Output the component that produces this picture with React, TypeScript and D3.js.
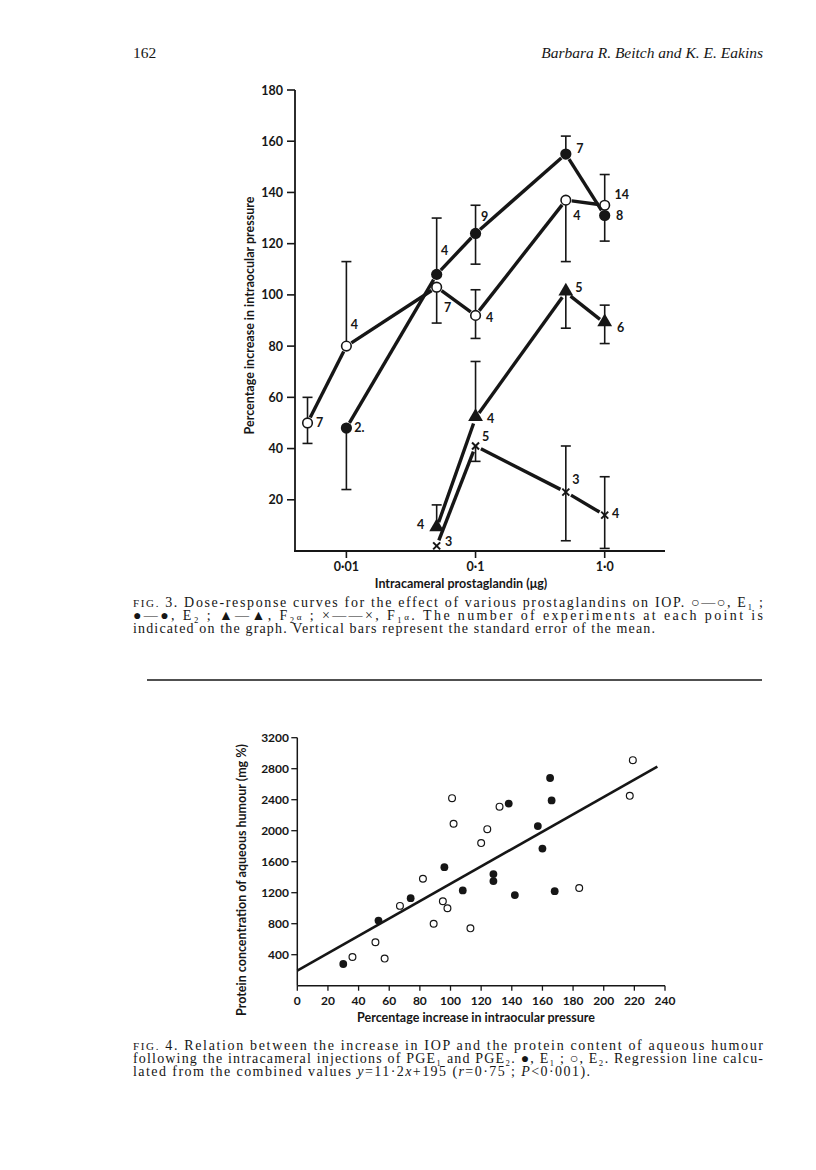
import * as d3 from "d3";

type DosePoint = { dose: number; mean: number; hi?: number; lo?: number; n: string };

// Fig. 3 – dose-response (percentage increase in IOP)
const e1Points: DosePoint[] = [
  { dose: 0.005, mean: 50, hi: 60, lo: 42, n: "7" },
  { dose: 0.01, mean: 80, hi: 113, n: "4" },
  { dose: 0.05, mean: 103, lo: 89, n: "7" },
  { dose: 0.1, mean: 92, hi: 102, lo: 83, n: "4" },
  { dose: 0.5, mean: 137, lo: 113, n: "4" },
  { dose: 1.0, mean: 135, hi: 147, n: "14" }
];
const e2Points: DosePoint[] = [
  { dose: 0.01, mean: 48, lo: 24, n: "2." },
  { dose: 0.05, mean: 108, hi: 130, n: "4" },
  { dose: 0.1, mean: 124, hi: 135, lo: 112, n: "9" },
  { dose: 0.5, mean: 155, hi: 162, n: "7" },
  { dose: 1.0, mean: 131, lo: 121, n: "8" }
];
const f2aPoints: DosePoint[] = [
  { dose: 0.05, mean: 9, hi: 18, n: "4" },
  { dose: 0.1, mean: 52, hi: 74, n: "4" },
  { dose: 0.5, mean: 101, lo: 87, n: "5" },
  { dose: 1.0, mean: 89, hi: 96, lo: 81, n: "6" }
];
const f1aPoints: DosePoint[] = [
  { dose: 0.05, mean: 2, n: "3" },
  { dose: 0.1, mean: 41, lo: 35, n: "5" },
  { dose: 0.5, mean: 23, hi: 41, lo: 4, n: "3" },
  { dose: 1.0, mean: 14, hi: 29, lo: 1, n: "4" }
];

// label offsets (px) for the "number of experiments" text
const e1LabelOffset = [[12, 0], [8, -22], [11, 20], [14, 2], [11, 15], [17, -11]];
const e2LabelOffset = [[13, -1], [8, -24], [9, -17], [14, -6], [15, 0]];
const f2aLabelOffset = [[-16, -3], [15, 1], [13, -5], [16, 4]];
const f1aLabelOffset = [[12, -4], [10, -9], [10, -13], [11, -2]];

const topYTicks = [20, 40, 60, 80, 100, 120, 140, 160, 180];
const topXTicks = [0.01, 0.1, 1];
const topXTickLabels = ["0·01", "0·1", "1·0"];

// Fig. 4 – protein vs IOP increase  [x = % increase IOP, y = protein mg %]
const e1Scatter = [
  [30, 280], [53, 840], [74, 1130], [96, 1530], [108, 1230], [128, 1440],
  [128, 1350], [138, 2350], [142, 1170], [157, 2060], [160, 1770],
  [165, 2680], [166, 2390], [168, 1220]
];
const e2Scatter = [
  [36, 370], [51, 560], [57, 350], [67, 1030], [82, 1380], [89, 800],
  [95, 1090], [98, 1000], [101, 2420], [102, 2090], [113, 740], [120, 1840],
  [124, 2020], [132, 2310], [184, 1260], [217, 2450], [219, 2910]
];
const regSlope = 11.2;
const regIntercept = 195;
const regRange = [0, 235];

const botXTicks = [0, 20, 40, 60, 80, 100, 120, 140, 160, 180, 200, 220, 240];
const botYTicks = [400, 800, 1200, 1600, 2000, 2400, 2800, 3200];

const ink = "#161616";
const sans = "Lato, 'Open Sans', sans-serif";
const serif = "'Liberation Serif', 'DejaVu Serif', serif";

const xTop = d3.scaleLog().domain([0.004, 2.93]).range([295, 665]);
const yTop = d3.scaleLinear().domain([0, 180]).range([551, 90]);
const xBot = d3.scaleLinear().domain([0, 240]).range([297.3, 665]);
const yBot = d3.scaleLinear().domain([0, 3200]).range([985.7, 737.7]);

function shorten(a: number[], b: number[], g: number) {
  const dx = b[0] - a[0];
  const dy = b[1] - a[1];
  const len = Math.hypot(dx, dy);
  return [a[0] + (dx / len) * g, a[1] + (dy / len) * g, b[0] - (dx / len) * g, b[1] - (dy / len) * g];
}

const trianglePath = d3.symbol(d3.symbolTriangle, 95)() ?? "";

function Marker({ kind, x, y }: { kind: string; x: number; y: number }) {
  if (kind === "open") {
    return <circle cx={x} cy={y} r={4.8} fill="#fff" stroke={ink} strokeWidth={1.6} />;
  }
  if (kind === "filled") {
    return <circle cx={x} cy={y} r={5.6} fill={ink} />;
  }
  if (kind === "triangle") {
    return <path d={trianglePath} transform={`translate(${x},${y - 1})`} fill={ink} />;
  }
  return (
    <g stroke={ink} strokeWidth={2}>
      <line x1={x - 3.5} y1={y - 3.5} x2={x + 3.5} y2={y + 3.5} />
      <line x1={x - 3.5} y1={y + 3.5} x2={x + 3.5} y2={y - 3.5} />
    </g>
  );
}

function DoseSeries({ points, kind, offsets }: { points: DosePoint[]; kind: string; offsets: number[][] }) {
  const px = points.map((p) => [xTop(p.dose), yTop(p.mean)]);
  const segs = px.slice(1).map((b, i) => shorten(px[i], b, 6));
  return (
    <g>
      {segs.map((s, i) => (
        <line key={`s${i}`} x1={s[0]} y1={s[1]} x2={s[2]} y2={s[3]} stroke={ink} strokeWidth={3.4} />
      ))}
      {points.map((p, i) => {
        const x = xTop(p.dose);
        const y = yTop(p.mean);
        return (
          <g key={`e${i}`} stroke={ink} strokeWidth={1.6}>
            {p.hi !== undefined ? (
              <>
                <line x1={x} x2={x} y1={y} y2={yTop(p.hi)} />
                <line x1={x - 5} x2={x + 5} y1={yTop(p.hi)} y2={yTop(p.hi)} />
              </>
            ) : null}
            {p.lo !== undefined ? (
              <>
                <line x1={x} x2={x} y1={y} y2={yTop(p.lo)} />
                <line x1={x - 5} x2={x + 5} y1={yTop(p.lo)} y2={yTop(p.lo)} />
              </>
            ) : null}
          </g>
        );
      })}
      {points.map((p, i) => (
        <Marker key={`m${i}`} kind={kind} x={xTop(p.dose)} y={yTop(p.mean)} />
      ))}
      {points.map((p, i) => (
        <text
          key={`t${i}`}
          x={xTop(p.dose) + offsets[i][0]}
          y={yTop(p.mean) + offsets[i][1]}
          textAnchor="middle"
          dominantBaseline="central"
          fontFamily={sans}
          fontWeight={700}
          fontSize={12.5}
          fill={ink}
        >
          {p.n}
        </text>
      ))}
    </g>
  );
}

export default function App() {
  const regLine = d3
    .line<number>()
    .x((d) => xBot(d))
    .y((d) => yBot(regSlope * d + regIntercept))(regRange);

  return (
    <svg
      width={816}
      height={1170}
      viewBox="0 0 816 1170"
      style={{ position: "absolute", left: 0, top: 0, background: "#fff" }}
    >
      <rect x={0} y={0} width={816} height={1170} fill="#fff" />

      {/* running head */}
      <text x={133} y={58} fontFamily={serif} fontSize={15.5} fill={ink}>162</text>
      <text x={763} y={58} textAnchor="end" fontFamily={serif} fontStyle="italic" fontSize={15.5} fill={ink}>
        Barbara R. Beitch and K. E. Eakins
      </text>

      {/* ---------- Fig. 3 ---------- */}
      <g>
        <line x1={295} x2={295} y1={yTop(180)} y2={yTop(0)} stroke={ink} strokeWidth={1.8} />
        <line x1={294} x2={665} y1={yTop(0)} y2={yTop(0)} stroke={ink} strokeWidth={1.8} />
        {topYTicks.map((t) => (
          <g key={t}>
            <line x1={287} x2={295} y1={yTop(t)} y2={yTop(t)} stroke={ink} strokeWidth={1.6} />
            <text
              x={283}
              y={yTop(t)}
              textAnchor="end"
              dominantBaseline="central"
              fontFamily={sans}
              fontWeight={700}
              fontSize={12.5}
              fill={ink}
            >
              {t}
            </text>
          </g>
        ))}
        {topXTicks.map((t, i) => (
          <g key={t}>
            <line x1={xTop(t)} x2={xTop(t)} y1={yTop(0)} y2={yTop(0) + 7} stroke={ink} strokeWidth={1.6} />
            <text
              x={xTop(t)}
              y={571}
              textAnchor="middle"
              fontFamily={sans}
              fontWeight={700}
              fontSize={12.5}
              fill={ink}
            >
              {topXTickLabels[i]}
            </text>
          </g>
        ))}
        <text x={461} y={588} textAnchor="middle" fontFamily={sans} fontWeight={700} fontSize={12.5} fill={ink}>
          Intracameral prostaglandin (μg)
        </text>
        <text
          transform={`translate(254,${(yTop(0) + yTop(180)) / 2 - 5}) rotate(-90)`}
          textAnchor="middle"
          fontFamily={sans}
          fontWeight={700}
          fontSize={12.5}
          fill={ink}
        >
          Percentage increase in intraocular pressure
        </text>

        <DoseSeries points={f1aPoints} kind="cross" offsets={f1aLabelOffset} />
        <DoseSeries points={f2aPoints} kind="triangle" offsets={f2aLabelOffset} />
        <DoseSeries points={e1Points} kind="open" offsets={e1LabelOffset} />
        <DoseSeries points={e2Points} kind="filled" offsets={e2LabelOffset} />
      </g>

      {/* caption fig. 3 */}
      <g fontFamily={serif} fontSize={14} fill={ink}>
        <text x={133} y={607} textLength={630} lengthAdjust="spacing">
          <tspan fontSize={11}>FIG.</tspan> 3.{"  "}Dose-response curves for the effect of various prostaglandins on IOP.{"  "}○—○, E₁ ;
        </text>
        <text x={133} y={620} textLength={630} lengthAdjust="spacing">
          ●—●, E₂ ; ▲—▲, F₂<tspan fontSize={9}>α</tspan> ; ×——×, F₁<tspan fontSize={9}>α</tspan>.{"  "}The number of experiments at each point is
        </text>
        <text x={133} y={633} textLength={522} lengthAdjust="spacing">
          indicated on the graph.{"  "}Vertical bars represent the standard error of the mean.
        </text>
      </g>

      <line x1={147} x2={762} y1={680} y2={680} stroke={ink} strokeWidth={1.6} />

      {/* ---------- Fig. 4 ---------- */}
      <g>
        <line x1={xBot(0)} x2={xBot(0)} y1={yBot(3200)} y2={yBot(0)} stroke={ink} strokeWidth={1.5} />
        <line x1={xBot(0)} x2={xBot(240)} y1={yBot(0)} y2={yBot(0)} stroke={ink} strokeWidth={1.5} />
        {botYTicks.map((t) => (
          <g key={t}>
            <line x1={xBot(0) - 6} x2={xBot(0)} y1={yBot(t)} y2={yBot(t)} stroke={ink} strokeWidth={1.3} />
            <text
              x={289}
              y={yBot(t)}
              textAnchor="end"
              dominantBaseline="central"
              fontFamily={sans}
              fontWeight={700}
              fontSize={12}
              fill={ink}
            >
              {t}
            </text>
          </g>
        ))}
        {botXTicks.map((t) => (
          <g key={t}>
            <line x1={xBot(t)} x2={xBot(t)} y1={yBot(0)} y2={yBot(0) + 5} stroke={ink} strokeWidth={1.3} />
            <text
              x={xBot(t)}
              y={1004.5}
              textAnchor="middle"
              fontFamily={sans}
              fontWeight={700}
              fontSize={12}
              fill={ink}
            >
              {t}
            </text>
          </g>
        ))}
        <text x={476} y={1022} textAnchor="middle" fontFamily={sans} fontWeight={700} fontSize={12.5} fill={ink}>
          Percentage increase in intraocular pressure
        </text>
        <text
          transform={`translate(246,880) rotate(-90)`}
          textAnchor="middle"
          fontFamily={sans}
          fontWeight={700}
          fontSize={12.5}
          fill={ink}
        >
          Protein concentration of aqueous humour (mg %)
        </text>

        <path d={regLine ?? ""} fill="none" stroke={ink} strokeWidth={2.6} />
        {e2Scatter.map((d, i) => (
          <circle key={`o${i}`} cx={xBot(d[0])} cy={yBot(d[1])} r={3.4} fill="#fff" stroke={ink} strokeWidth={1.2} />
        ))}
        {e1Scatter.map((d, i) => (
          <circle key={`f${i}`} cx={xBot(d[0])} cy={yBot(d[1])} r={3.9} fill={ink} />
        ))}
      </g>

      {/* caption fig. 4 */}
      <g fontFamily={serif} fontSize={14} fill={ink}>
        <text x={133} y={1050} textLength={630} lengthAdjust="spacing">
          <tspan fontSize={11}>FIG.</tspan> 4.{"  "}Relation between the increase in IOP and the protein content of aqueous humour
        </text>
        <text x={133} y={1063} textLength={630} lengthAdjust="spacing">
          following the intracameral injections of PGE₁ and PGE₂.{"  "}●, E₁ ; ○, E₂.{"  "}Regression line calcu-
        </text>
        <text x={133} y={1076} textLength={457} lengthAdjust="spacing">
          lated from the combined values <tspan fontStyle="italic">y</tspan>=11·2<tspan fontStyle="italic">x</tspan>+195 (<tspan fontStyle="italic">r</tspan>=0·75 ; <tspan fontStyle="italic">P</tspan>&lt;0·001).
        </text>
      </g>
    </svg>
  );
}
